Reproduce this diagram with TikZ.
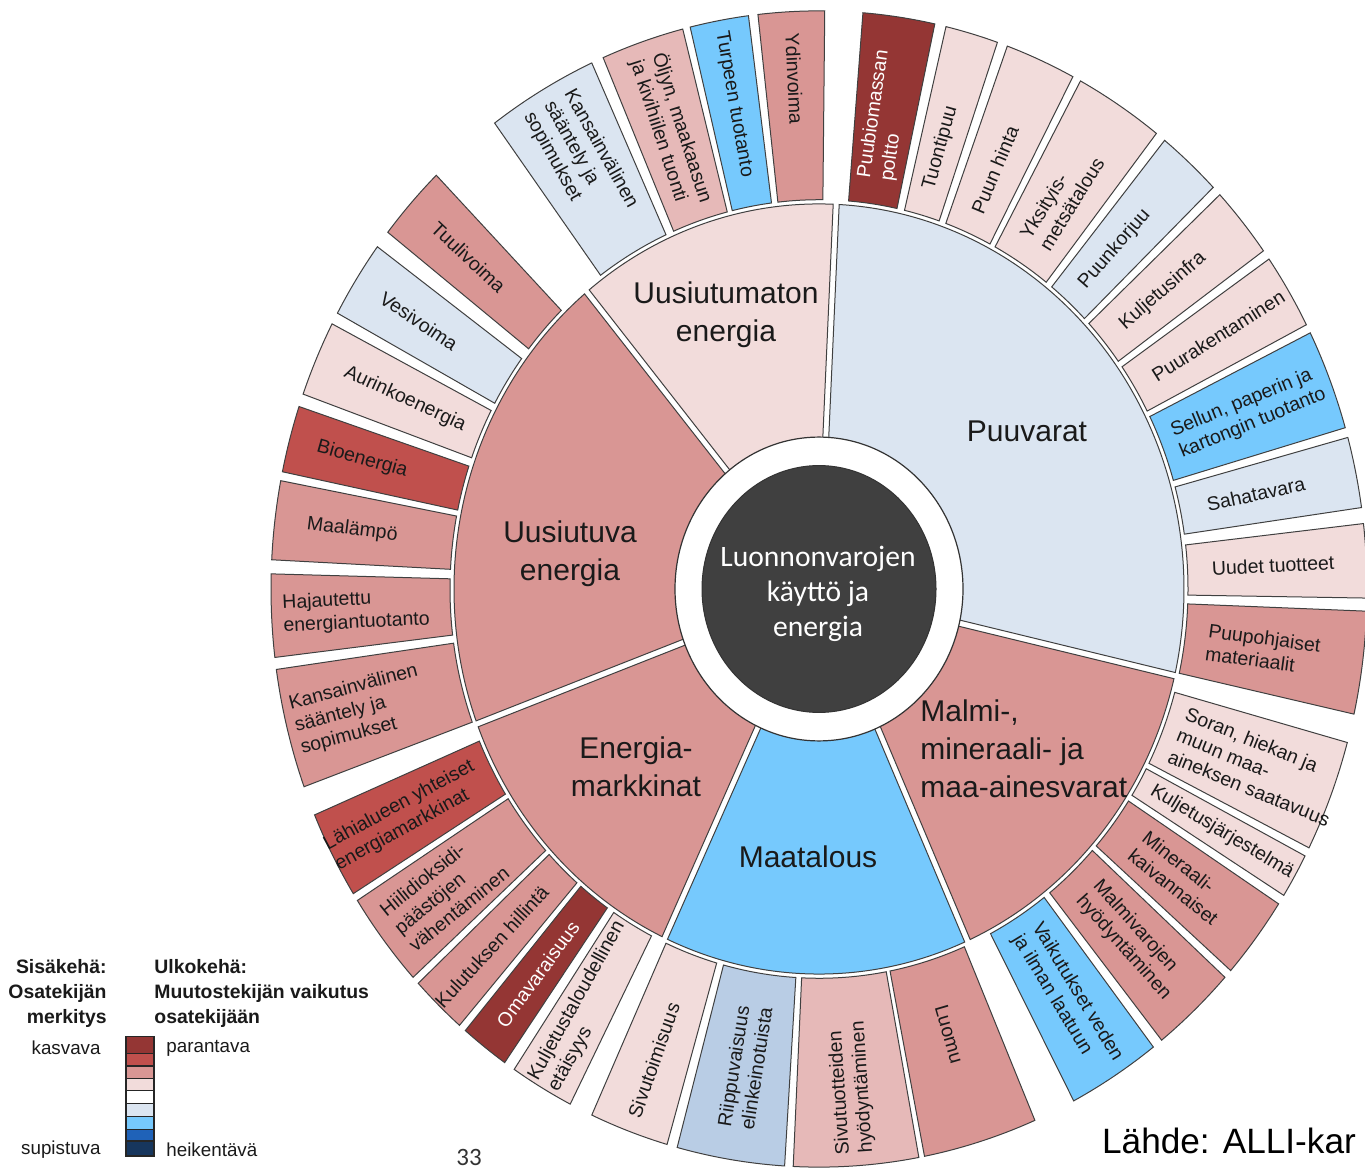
\documentclass[tikz,border=0pt]{standalone}
\usepackage{fontspec}
\setmainfont{Liberation Sans}
\newfontfamily\carlitofont{Carlito}
\definecolor{dred}{HTML}{943634}
\definecolor{mred}{HTML}{C0504D}
\definecolor{lred}{HTML}{D99694}
\definecolor{pinkb}{HTML}{E6B9B8}
\definecolor{pinkl}{HTML}{F2DCDB}
\definecolor{bluel}{HTML}{DBE5F1}
\definecolor{blueg}{HTML}{B9CDE5}
\definecolor{bluesky}{HTML}{76C9FD}
\definecolor{bluem}{HTML}{1F62B8}
\definecolor{bluen}{HTML}{17365D}
\definecolor{darkc}{HTML}{404040}
\definecolor{txt}{HTML}{1A1A1A}
\tikzset{
  olabel/.style={font=\fontsize{9.75}{11.5}\selectfont, align=left, inner sep=0pt},
  ilabel/.style={font=\fontsize{15}{19}\selectfont, align=center, inner sep=0pt, text=txt},
  segline/.style={draw=black!75, line width=0.5pt},
  lgbold/.style={font=\bfseries\fontsize{9.7}{12.5}\selectfont, inner sep=0pt, text=txt},
  lgtext/.style={font=\fontsize{9.4}{11}\selectfont, inner sep=0pt, text=txt},
}
% outer segment: t1, t2, fill, label, rotation offset, start radius, text colour, name
\newcommand\oseg[8]{%
  \path[segline, fill=#3] (#1:369) arc[start angle=#1, end angle=#2, radius=369]
     -- (#2:548) arc[start angle=#2, end angle=#1, radius=548] -- cycle;
  \pgfmathsetmacro\segmid{(#1+#2)/2}%
  \pgfmathsetmacro\segrot{atan2(1.055*sin(\segmid),cos(\segmid))+#5}%
  \node[olabel, text=#7, rotate=\segrot, anchor=west] (#8) at (\segmid:#6) {#4};
}
% inner sector: t1, t2, fill
\newcommand\isec[3]{%
  \path[segline, fill=#3] ({#1+1.3}:130) -- ({#1+0.47}:365)
     arc[start angle={#1+0.47}, end angle={#2-0.47}, radius=365]
     -- ({#2-1.3}:130) -- cycle;
}
\begin{document}
\begin{tikzpicture}[x=0.5pt, y=-0.5pt]
\useasboundingbox (0,0) rectangle (1365,1170);
\clip (0,0) rectangle (1365,1170);
\fill[white] (0,0) rectangle (1365,1170);

\begin{scope}[shift={(819,589)}, x=0.5pt, y=0.5275pt]
  % inner sectors
  \isec{-13}{87.3}{bluel}
  \isec{87.3}{129.5}{pinkl}
  \isec{129.5}{200.5}{lred}
  \isec{200.5}{245}{lred}
  \isec{245}{294}{bluesky}
  \isec{294}{347}{lred}
  % ring and centre
  \path[draw=black!80, line width=0.6pt, fill=white] (0,0) circle[radius=144];
  \path[draw=black!80, line width=0.5pt, fill=darkc] (0,0) circle[radius=117];
  % outer segments
  \oseg{77.8}{85.4}{dred}{Puubiomassan\\poltto}{0}{392}{white}{s1}
  \oseg{71.0}{76.6}{pinkl}{Tuontipuu}{0}{394}{txt}{s2}
  \oseg{62.4}{69.9}{pinkl}{Puun hinta}{0}{390}{txt}{s3}
  \oseg{52.0}{61.5}{pinkl}{Yksityis-\\metsätalous}{0}{392}{txt}{s4}
  \oseg{44.0}{50.9}{bluel}{Puunkorjuu}{0}{389}{txt}{s5}
  \oseg{35.8}{43.0}{pinkl}{Kuljetusinfra}{0}{392}{txt}{s6}
  \oseg{27.2}{34.8}{pinkl}{Puurakentaminen}{0}{390}{txt}{s7}
  \oseg{16.2}{26.3}{bluesky}{Sellun, paperin ja\\kartongin tuotanto}{0}{383}{txt}{s8}
  \oseg{8.1}{15.2}{bluel}{Sahatavara}{0}{396}{txt}{s9}
  \oseg{-0.9}{6.5}{pinkl}{Uudet tuotteet}{0}{393}{txt}{s10}
  \oseg{-12.5}{-2.2}{lred}{Puupohjaiset\\materiaalit}{0}{391}{txt}{s11}
  \oseg{-26.6}{-15.4}{pinkl}{Soran, hiekan ja\\muun maa-\\aineksen saatavuus}{0}{384}{txt}{s12}
  \oseg{-32.0}{-27.5}{pinkl}{Kuljetusjärjestelmä}{0}{383}{txt}{s13}
  \oseg{-41.3}{-33.0}{lred}{Mineraali-\\kaivannaiset}{0}{400}{txt}{s14}
  \oseg{-51.3}{-42.2}{lred}{Malmivarojen\\hyödyntäminen}{0}{392}{txt}{s15}
  \oseg{-62.3}{-52.4}{bluesky}{Vaikutukset veden\\ja ilman laatuun}{0}{384}{txt}{s16}
  \oseg{-78.9}{-66.8}{lred}{Luomu}{0}{413}{txt}{s17}
  \oseg{-92.7}{-79.5}{pinkb}{Sivutuotteiden\\hyödyntäminen}{180}{537}{txt}{s18}
  \oseg{-105.0}{-93.6}{blueg}{Riippuvaisuus\\elinkeinotuista}{180}{518}{txt}{s19}
  \oseg{-114.5}{-106.1}{pinkl}{Sivutoimisuus}{180}{534}{txt}{s20}
  \oseg{-123.8}{-117.0}{pinkl}{Kuljetustaloudellinen\\etäisyys}{180}{545}{txt}{s21}
  \oseg{-130.2}{-125.0}{dred}{Omavaraisuus}{180}{522}{white}{s22}
  \oseg{-137.0}{-131.0}{lred}{Kulutuksen hillintä}{180}{548}{txt}{s23}
  \oseg{-147.4}{-137.8}{lred}{Hiilidioksidi-\\päästöjen\\vähentäminen}{180}{532}{txt}{s24}
  \oseg{-157.0}{-148.2}{mred}{Lähialueen yhteiset\\energiamarkkinat}{180}{550}{txt}{s25}
  \oseg{188}{200}{lred}{Kansainvälinen\\sääntely ja\\sopimukset}{180}{540}{txt}{s26}
  \oseg{178.5}{186.8}{lred}{Hajautettu\\energiantuotanto}{180}{537}{txt}{s27}
  \oseg{169.2}{177.1}{lred}{Maalämpö}{180}{516}{txt}{s28}
  \oseg{161.6}{168.3}{mred}{Bioenergia}{180}{520}{txt}{s29}
  \oseg{152.7}{160.3}{pinkl}{Aurinkoenergia}{180}{517}{txt}{s30}
  \oseg{143.7}{151.5}{bluel}{Vesivoima}{180}{518}{txt}{s31}
  \oseg{134.3}{141.9}{lred}{Tuulivoima}{180}{517}{txt}{s32}
  \oseg{114.5}{126.3}{bluel}{Kansainvälinen\\sääntely ja\\sopimukset}{180}{535}{txt}{s33}
  \oseg{104.4}{113.2}{pinkb}{Öljyn, maakaasun\\ja kivihiilen tuonti}{180}{533}{txt}{s34}
  \oseg{97.4}{103.6}{bluesky}{Turpeen tuotanto}{180}{538}{txt}{s35}
  \oseg{89.4}{96.4}{lred}{Ydinvoima}{180}{528}{txt}{s36}
\end{scope}

% centre and inner labels
\node[font=\carlitofont\fontsize{14.8}{17.5}\selectfont, text=white, align=center, inner sep=0pt] (centre) at (818,594) {Luonnonvarojen\\käyttö ja\\energia};
\node[ilabel] (uusiutumaton) at (726,315) {Uusiutumaton\\energia};
\node[ilabel] (puuvarat) at (1027,431) {Puuvarat};
\node[ilabel] (uusiutuva) at (570,554) {Uusiutuva\\energia};
\node[ilabel] (energiam) at (636,767) {Energia-\\markkinat};
\node[ilabel] (maatalous) at (808,857) {Maatalous};
\node[ilabel, align=left, anchor=west] (malmi) at (920,749) {Malmi-,\\mineraali- ja\\maa-ainesvarat};

% legend
\node[lgbold, align=right, anchor=east] (lgin) at (107,993) {Sisäkehä:\\Osatekijän\\merkitys};
\node[lgbold, align=left, anchor=west] (lgout) at (154,993) {Ulkokehä:\\Muutostekijän vaikutus\\osatekijään};
\node[lgtext, anchor=east] (lgkas) at (101,1048) {kasvava};
\node[lgtext, anchor=east] (lgsup) at (101,1150) {supistuva};
\node[lgtext, anchor=west] (lgpar) at (166,1048) {parantava};
\node[lgtext, anchor=west] (lghei) at (166,1150) {heikentävä};
\foreach \ya/\yb/\c in {1036.7/1053.3/dred, 1053.3/1066/mred, 1066/1078.3/lred, 1078.3/1090.7/pinkl, 1090.7/1103.3/white, 1103.3/1116.7/bluel, 1116.7/1129.3/bluesky, 1129.3/1141/bluem, 1141/1156/bluen}
  \path[draw=black!85, line width=0.6pt, fill=\c] (126,\ya) rectangle (154,\yb);

% source and page number
\node[font=\fontsize{17.6}{20}\selectfont, anchor=base west, inner sep=0pt] (src) at (1101.7,1153.3) {Lähde: ALLI-kar};
\node[font=\carlitofont\fontsize{12.5}{14}\selectfont, text=black!80, anchor=base west, inner sep=0pt] (pg) at (456,1165.5) {33};
\end{tikzpicture}
\end{document}
